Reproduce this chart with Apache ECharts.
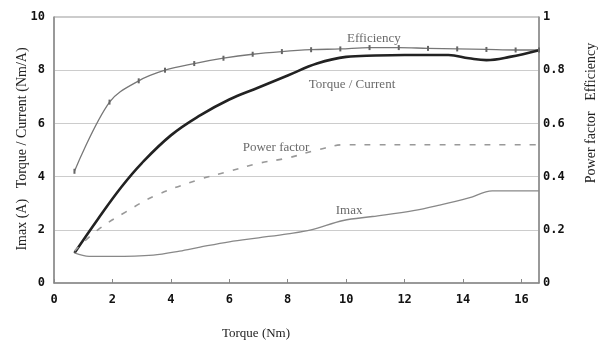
<!DOCTYPE html>
<html>
<head>
<meta charset="utf-8">
<script src="https://cdn.jsdelivr.net/npm/echarts@6/dist/echarts.min.js"></script>
<style>
  html, body { margin: 0; padding: 0; background: #fff; }
  #chart { width: 612px; height: 349px; }
</style>
</head>
<body>
<div id="chart"></div>
<script>
// Motor performance versus load torque
const efficiencyTorque = [0.7, 1.9, 2.9, 3.8, 4.8, 5.8, 6.8, 7.8, 8.8, 9.8, 10.8, 11.8, 12.8, 13.8, 14.8, 15.8, 16.6];
const efficiency       = [0.42, 0.68, 0.76, 0.80, 0.825, 0.845, 0.86, 0.87, 0.877, 0.88, 0.885, 0.885, 0.882, 0.88, 0.878, 0.876, 0.876];

const ratioTorque   = [0.7, 1.5, 2.3, 3.0, 4.0, 5.0, 6.0, 7.0, 8.0, 9.0, 10.0, 11.0, 12.0, 13.5, 14.2, 14.8, 15.6, 16.6];
const torquePerAmp  = [1.13, 2.4, 3.6, 4.5, 5.55, 6.3, 6.9, 7.35, 7.8, 8.25, 8.5, 8.55, 8.57, 8.57, 8.45, 8.38, 8.5, 8.75];

const pfTorque    = [0.7, 1.5, 2.5, 3.5, 5.0, 6.0, 7.0, 8.0, 9.0, 10.0, 11.0, 12.0, 13.0, 14.0, 15.0, 16.6];
const powerFactor = [0.12, 0.2, 0.27, 0.33, 0.39, 0.42, 0.45, 0.47, 0.50, 0.52, 0.52, 0.52, 0.52, 0.52, 0.52, 0.52];

const imaxTorque = [0.7, 1.2, 2.0, 3.4, 4.3, 5.0, 6.0, 7.0, 8.0, 8.8, 9.9, 10.9, 12.3, 13.2, 14.2, 15.0, 16.6];
const imax       = [1.13, 1.0, 1.0, 1.05, 1.2, 1.35, 1.55, 1.7, 1.85, 2.0, 2.35, 2.5, 2.72, 2.93, 3.2, 3.46, 3.46];

// Curve captions: [torque, value on the left scale, text]
const captions = [
  [10.95, 9.2, 'Efficiency'],
  [10.2, 7.45, 'Torque / Current'],
  [7.6, 5.1, 'Power factor'],
  [10.1, 2.74, 'Imax']
];

const xTitle = 'Torque (Nm)';
const leftTitle = 'Imax (A)   Torque / Current (Nm/A)';
const rightTitle = 'Power factor   Efficiency';

const pairs = (xs, ys) => xs.map((x, i) => [x, ys[i]]);

const monoLabel = {
  fontFamily: 'DejaVu Sans Mono',
  fontWeight: 'bold',
  fontSize: 12,
  color: '#111'
};
const serif = 'Liberation Serif';

const chart = echarts.init(document.getElementById('chart'), null, { renderer: 'canvas' });

chart.setOption({
  animation: false,
  backgroundColor: '#fff',
  grid: { left: 54, right: 73, top: 17, bottom: 66, show: true, borderColor: '#999', borderWidth: 1 },
  xAxis: {
    type: 'value',
    min: 0, max: 16.6, interval: 2,
    axisLine: { show: true, lineStyle: { color: '#888', width: 1.5 } },
    axisTick: { show: true, inside: true, length: 4, lineStyle: { color: '#888' } },
    axisLabel: Object.assign({ margin: 11, showMaxLabel: false }, monoLabel),
    splitLine: { show: false }
  },
  yAxis: [
    {
      type: 'value',
      min: 0, max: 10, interval: 2,
      axisLine: { show: true, lineStyle: { color: '#888', width: 1.5 } },
      axisTick: { show: false },
      axisLabel: Object.assign({ margin: 9 }, monoLabel),
      splitLine: { show: true, lineStyle: { color: '#ccc', width: 1 } }
    },
    {
      type: 'value',
      min: 0, max: 1, interval: 0.2,
      position: 'right',
      axisLine: { show: true, lineStyle: { color: '#888', width: 1.5 } },
      axisTick: { show: false },
      axisLabel: Object.assign({
        margin: 4,
        formatter: v => (v === 0 ? '0' : v === 1 ? '1' : v.toFixed(1))
      }, monoLabel),
      splitLine: { show: false }
    }
  ],
  series: [
    {
      name: 'Efficiency',
      type: 'line',
      yAxisIndex: 1,
      smooth: 0.35,
      data: pairs(efficiencyTorque, efficiency),
      symbol: 'rect',
      symbolSize: [2, 5],
      itemStyle: { color: '#666' },
      lineStyle: { color: '#777', width: 1.3 }
    },
    {
      name: 'Torque / Current',
      type: 'line',
      smooth: 0.4,
      data: pairs(ratioTorque, torquePerAmp),
      symbol: 'none',
      lineStyle: { color: '#222', width: 2.6 }
    },
    {
      name: 'Power factor',
      type: 'line',
      yAxisIndex: 1,
      smooth: 0.4,
      data: pairs(pfTorque, powerFactor),
      symbol: 'none',
      lineStyle: { color: '#999', width: 1.6, type: [6, 9] }
    },
    {
      name: 'Imax',
      type: 'line',
      smooth: 0.35,
      data: pairs(imaxTorque, imax),
      symbol: 'none',
      lineStyle: { color: '#888', width: 1.3 }
    },
    {
      name: 'captions',
      type: 'scatter',
      data: captions.map(c => ({ value: [c[0], c[1]], name: c[2] })),
      symbolSize: 0,
      silent: true,
      label: {
        show: true,
        position: 'inside',
        formatter: p => p.name,
        fontFamily: serif,
        fontSize: 13,
        color: '#444'
      }
    }
  ],
  graphic: [
    {
      type: 'text',
      left: 222, top: 327,
      style: { text: xTitle, font: '13px "' + serif + '"', fill: '#222' }
    },
    {
      type: 'text',
      x: 22, y: 149,
      rotation: Math.PI / 2,
      style: { text: leftTitle, font: '14px "' + serif + '"', fill: '#222', align: 'center', verticalAlign: 'middle' }
    },
    {
      type: 'text',
      x: 591, y: 113,
      rotation: Math.PI / 2,
      style: { text: rightTitle, font: '14px "' + serif + '"', fill: '#222', align: 'center', verticalAlign: 'middle' }
    }
  ]
});
</script>
</body>
</html>
